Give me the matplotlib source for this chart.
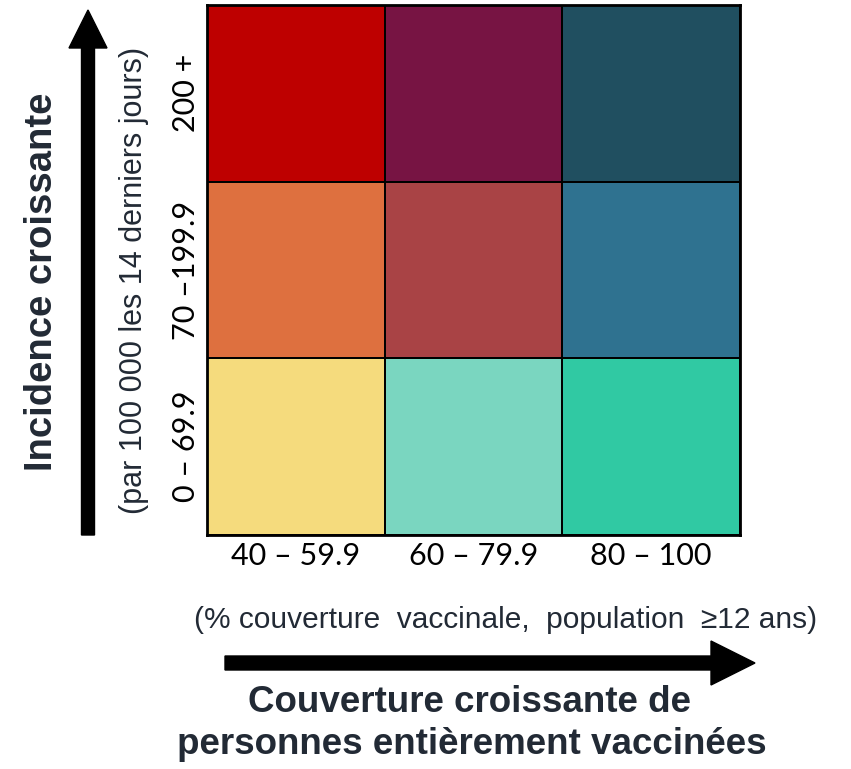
import numpy as np
import matplotlib.pyplot as plt
from matplotlib.colors import ListedColormap
from matplotlib.patches import FancyArrow

# bivariate legend: rows = incidence (low -> high), cols = vaccination coverage
coverage_labels = ["40 – 59.9", "60 – 79.9", "80 – 100"]
incidence_labels = ["0 – 69.9", "70 –199.9", "200 +"]
colors_low = ["#F5DB7D", "#7AD6C0", "#30C9A3"]
colors_mid = ["#DE703F", "#A94345", "#2F7290"]
colors_high = ["#BE0000", "#771443", "#204F60"]

all_colors = colors_low + colors_mid + colors_high
grid = np.arange(9).reshape(3, 3)

text_col = "#222A35"

fig = plt.figure(figsize=(8.51, 7.69), dpi=100)

# overlay in pixel coordinates for arrows and titles
bg = fig.add_axes([0, 0, 1, 1])
bg.set_xlim(0, 851)
bg.set_ylim(769, 0)
bg.axis("off")

ax = fig.add_axes([207 / 851, 1 - 535 / 769, 533 / 851, 530 / 769])
ax.pcolormesh(grid, cmap=ListedColormap(all_colors), vmin=-0.5, vmax=8.5,
              edgecolors="black", linewidth=1.2)
ax.set_xticks(np.arange(3) + 0.5)
ax.set_xticklabels(coverage_labels, fontsize=22, family="Lato")
ax.set_yticks(np.arange(3) + 0.5)
ax.set_yticklabels(incidence_labels, fontsize=22, family="Lato", rotation=90, va="center")
ax.tick_params(length=0, pad=5)
for s in ax.spines.values():
    s.set_linewidth(2)

# vertical arrow
bg.add_patch(FancyArrow(88, 535, 0, -525, width=13, head_width=38, head_length=38,
                        length_includes_head=True, color="black"))
# horizontal arrow
bg.add_patch(FancyArrow(225, 663, 530, 0, width=14, head_width=44, head_length=44,
                        length_includes_head=True, color="black"))

bg.text(42, 282, "Incidence croissante", rotation=90, ha="center", va="center",
        fontsize=27.5, fontweight="bold", family="Liberation Sans", color=text_col)
bg.text(134, 280, "(par 100 000 les 14 derniers jours)", rotation=90, ha="center",
        va="center", fontsize=22, family="Liberation Sans", color=text_col)
bg.text(506, 620, "(% couverture  vaccinale,  population  ≥12 ans)", ha="center",
        va="center", fontsize=21.5, family="Liberation Sans", color=text_col)
bg.text(470, 703, "Couverture croissante de", ha="center", va="center",
        fontsize=26.5, fontweight="bold", family="Liberation Sans", color=text_col)
bg.text(472, 745, "personnes entièrement vaccinées", ha="center", va="center",
        fontsize=26.5, fontweight="bold", family="Liberation Sans", color=text_col)

fig.savefig("out.png", dpi=100)
